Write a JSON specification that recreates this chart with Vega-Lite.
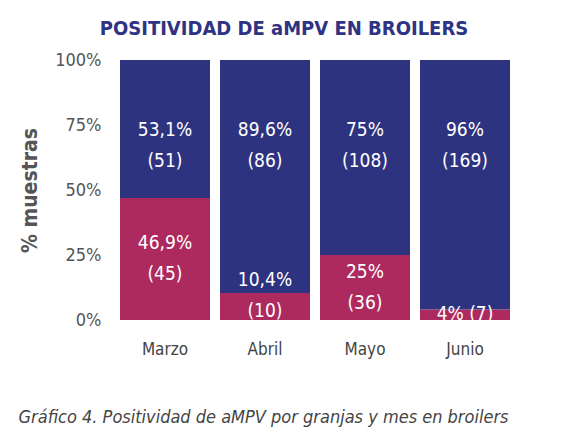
{
  "$schema": "https://vega.github.io/schema/vega-lite/v6.json",
  "width": 400,
  "height": 260,
  "padding": {"left": 18, "top": 19, "right": 10, "bottom": 5},
  "background": "white",
  "title": {
    "text": "POSITIVIDAD DE aMPV EN BROILERS",
    "font": "DejaVu Sans Condensed, sans-serif",
    "fontSize": 20,
    "fontWeight": "bold",
    "color": "#2e3383",
    "anchor": "middle",
    "dx": -31,
    "offset": 12
  },
  "data": {
    "values": [
      {"mes": "Marzo", "estado": "Positivo", "orden": 1, "pct": 46.9, "etiqueta": "46,9%\n(45)"},
      {"mes": "Marzo", "estado": "Negativo", "orden": 2, "pct": 53.1, "etiqueta": "53,1%\n(51)"},
      {"mes": "Abril", "estado": "Positivo", "orden": 1, "pct": 10.4, "etiqueta": "10,4%\n(10)"},
      {"mes": "Abril", "estado": "Negativo", "orden": 2, "pct": 89.6, "etiqueta": "89,6%\n(86)"},
      {"mes": "Mayo", "estado": "Positivo", "orden": 1, "pct": 25, "etiqueta": "25%\n(36)"},
      {"mes": "Mayo", "estado": "Negativo", "orden": 2, "pct": 75, "etiqueta": "75%\n(108)"},
      {"mes": "Junio", "estado": "Positivo", "orden": 1, "pct": 4, "etiqueta": "4% (7)"},
      {"mes": "Junio", "estado": "Negativo", "orden": 2, "pct": 96, "etiqueta": "96%\n(169)"}
    ]
  },
  "transform": [
    {"stack": "pct", "groupby": ["mes"], "sort": [{"field": "orden"}], "as": ["y0", "y1"]},
    {"calculate": "datum.estado == 'Negativo' ? 73 : (datum.mes == 'Junio' ? 2.5 : (datum.mes == 'Abril' ? 15.5 : (datum.y0 + datum.y1) / 2 + 6))", "as": "ypos"}
  ],
  "encoding": {
    "x": {
      "field": "mes",
      "type": "nominal",
      "sort": ["Marzo", "Abril", "Mayo", "Junio"],
      "scale": {"paddingInner": 0.1, "paddingOuter": 0.05},
      "axis": {
        "title": "Gráfico 4. Positividad de aMPV por granjas y mes en broilers",
        "titleFont": "DejaVu Sans Condensed, sans-serif",
        "titleFontSize": 18,
        "titleFontStyle": "italic",
        "titleFontWeight": "normal",
        "titleColor": "#444444",
        "titleAnchor": "start",
        "titleAlign": "left",
        "titleBaseline": "alphabetic",
        "titleX": -97,
        "titleY": 102,
        "labelAngle": 0,
        "labelFont": "DejaVu Sans Condensed, sans-serif",
        "labelFontSize": 17,
        "labelColor": "#444444",
        "labelPadding": 21,
        "domain": false,
        "ticks": false
      }
    }
  },
  "layer": [
    {
      "mark": {"type": "bar"},
      "encoding": {
        "y": {
          "field": "y0",
          "type": "quantitative",
          "scale": {"domain": [0, 100]},
          "axis": {
            "title": "% muestras",
            "titleFont": "DejaVu Sans Condensed, sans-serif",
            "titleFontSize": 21,
            "titleFontWeight": "bold",
            "titleColor": "#555555",
            "titlePadding": 14,
            "values": [0, 25, 50, 75, 100],
            "labelExpr": "datum.value + '%'",
            "labelFont": "DejaVu Sans Condensed, sans-serif",
            "labelFontSize": 18,
            "labelColor": "#555555",
            "labelPadding": 14,
            "domain": false,
            "ticks": false,
            "grid": false
          }
        },
        "y2": {"field": "y1"},
        "color": {
          "field": "estado",
          "type": "nominal",
          "scale": {"domain": ["Positivo", "Negativo"], "range": ["#ad2a5f", "#2e3380"]},
          "legend": null
        }
      }
    },
    {
      "mark": {
        "type": "text",
        "font": "DejaVu Sans Condensed, sans-serif",
        "fontSize": 19,
        "color": "white",
        "lineBreak": "\n",
        "lineHeight": 31,
        "baseline": "middle"
      },
      "encoding": {
        "y": {"field": "ypos", "type": "quantitative"},
        "text": {"field": "etiqueta"}
      }
    }
  ],
  "config": {"view": {"stroke": null}}
}
